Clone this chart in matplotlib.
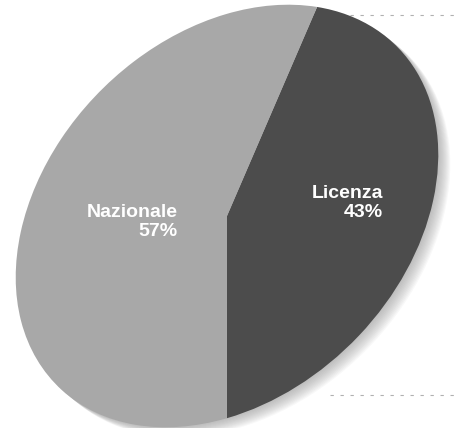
#!/usr/bin/env python3
"""
Pie chart: Licenza vs Nazionale, drawn as a tilted ellipse
"""
import matplotlib.pyplot as plt
from matplotlib.patches import Ellipse
from matplotlib.transforms import Affine2D

# Data
categories = ['Licenza', 'Nazionale']
shares = [43, 57]
colors = ['#4c4c4c', '#a8a8a8']

plt.rcParams['font.family'] = ['Liberation Sans', 'DejaVu Sans']


def main():
    fig = plt.figure(figsize=(4.56, 4.28), dpi=100)
    ax = fig.add_axes([0, 0, 1, 1])
    ax.set_xlim(0, 456)
    ax.set_ylim(0, 428)
    ax.axis('off')

    # the unit pie is stretched and turned into a tilted ellipse
    cx, cy = 227, 212
    semi_major, semi_minor, tilt = 240, 178, 45
    squash = Affine2D().scale(semi_major, semi_minor).rotate_deg(tilt)
    to_page = squash + Affine2D().translate(cx, cy) + ax.transData

    # soft drop shadow to the lower right
    for k in range(1, 13):
        shadow = Ellipse((cx + k, cy - 0.8 * k), 2 * semi_major,
                         2 * semi_minor, angle=tilt,
                         facecolor='#8c8c8c', edgecolor='none',
                         alpha=0.06, zorder=1)
        ax.add_patch(shadow)

    wedges, _ = ax.pie(shares, colors=colors, startangle=233.4,
                       counterclock=True, radius=1.0, center=(0, 0),
                       wedgeprops=dict(linewidth=0))
    for w in wedges:
        w.set_transform(to_page)
        w.set_zorder(2)
    ax.set_aspect('auto')
    ax.set_xlim(0, 456)
    ax.set_ylim(0, 428)

    # labels, right aligned inside each slice
    label_xy = [(383, 225), (178, 206)]
    for name, val, (x, y) in zip(categories, shares, label_xy):
        ax.text(x, y, '{}\n{}%'.format(name, val), color='white',
                fontsize=14, fontweight='bold', ha='right', va='center',
                multialignment='right', linespacing=1.2, zorder=3)

    # faint frame marks along the right side
    ax.plot([340, 456], [413, 413], color='#b0b0b0', lw=0.8,
            ls=(0, (3, 6)), zorder=0)
    ax.plot([330, 456], [33, 33], color='#b0b0b0', lw=0.8,
            ls=(0, (3, 6)), zorder=0)

    fig.savefig('out.png', dpi=100, facecolor='white')


if __name__ == "__main__":
    main()
